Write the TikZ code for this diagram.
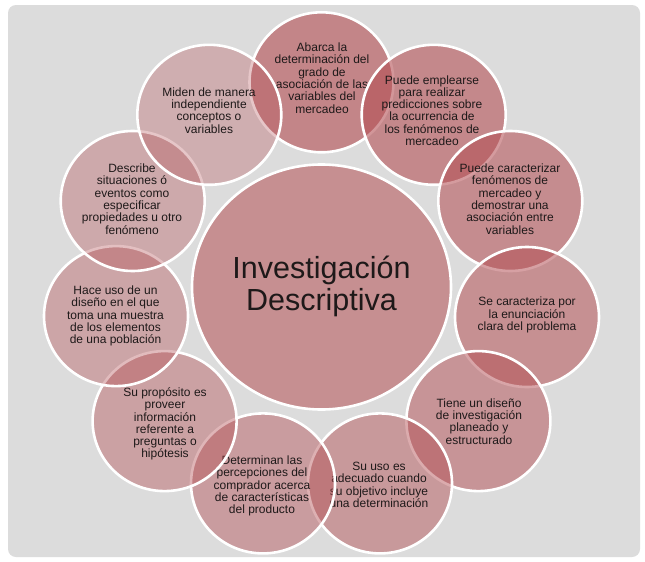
\documentclass[tikz,border=0pt]{standalone}
\usepackage{fontspec}
\setmainfont{Liberation Sans}
\usetikzlibrary{shapes.geometric}
\definecolor{bg}{RGB}{220,220,220}
\definecolor{base}{RGB}{180,80,85}
\definecolor{txtc}{RGB}{30,25,25}
\tikzset{
  bubble/.style={ellipse, draw=white, line width=2.6pt, fill=base, inner sep=0pt,
    minimum width=144pt, minimum height=140pt},
  txt/.style={align=center, text=txtc, font=\fontsize{12}{12.3}\selectfont, inner sep=0pt},
  big/.style={ellipse, draw=white, line width=2.6pt, fill=base, fill opacity=0.55, inner sep=0pt,
    minimum width=259pt, minimum height=245pt}
}
\begin{document}
\begin{tikzpicture}[x=1pt,y=-1pt]
\useasboundingbox (0,0) rectangle (645,562);
\fill[white] (0,0) rectangle (645,562);
\fill[bg, rounded corners=8pt] (8,5) rectangle (640,557);
% centre
\node[big] (c) at (321.5,287) {};
\node[txt, font=\fontsize{30.5}{32}\selectfont] (ct) at (321.5,286) {Investigación\\Descriptiva};
% ring
\node[bubble, fill opacity=0.62] (b1) at (321.5,82.3) {};
\node[txt] (t1) at (322,78) {Abarca la\\determinación del\\grado de\\asociación de las\\variables del\\mercadeo};
\node[bubble, fill opacity=0.6] (b2) at (433.7,114.8) {};
\node[txt] (t2) at (432,110.5) {Puede emplearse\\para realizar\\predicciones sobre\\la ocurrencia de\\los fenómenos de\\mercadeo};
\node[bubble, fill opacity=0.57] (b3) at (510.3,201) {};
\node[txt] (t3) at (510,199) {Puede caracterizar\\fenómenos de\\mercadeo y\\demostrar una\\asociación entre\\variables};
\node[bubble, fill opacity=0.54] (b4) at (527,317) {};
\node[txt] (t4) at (527,315) {Se caracteriza por\\la enunciación\\clara del problema};
\node[bubble, fill opacity=0.51] (b5) at (478.4,421.1) {};
\node[txt] (t5) at (479,421.5) {Tiene un diseño\\de investigación\\planeado y\\estructurado};
\node[bubble, fill opacity=0.48] (b6) at (380,483.4) {};
\node[txt] (t6) at (379,485) {Su uso es\\adecuado cuando\\su objetivo incluye\\una determinación};
\node[bubble, fill opacity=0.45] (b7) at (263,483.4) {};
\node[txt] (t7) at (262,486) {Determinan las\\percepciones del\\comprador acerca\\de características\\del producto};
\node[bubble, fill opacity=0.42] (b8) at (164.6,421.1) {};
\node[txt] (t8) at (165,424) {Su propósito es\\proveer\\información\\referente a\\preguntas o\\hipótesis};
\node[bubble, fill opacity=0.39] (b9) at (116,316.1) {};
\node[txt] (t9) at (115.5,316) {Hace uso de un\\diseño en el que\\toma una muestra\\de los elementos\\de una población};
\node[bubble, fill opacity=0.36] (b10) at (132.7,201) {};
\node[txt] (t10) at (132,199) {Describe\\situaciones ó\\eventos como\\especificar\\propiedades u otro\\fenómeno};
\node[bubble, fill opacity=0.32] (b11) at (209.3,114.8) {};
\node[txt] (t11) at (209,110.5) {Miden de manera\\independiente\\conceptos o\\variables};
\end{tikzpicture}
\end{document}
